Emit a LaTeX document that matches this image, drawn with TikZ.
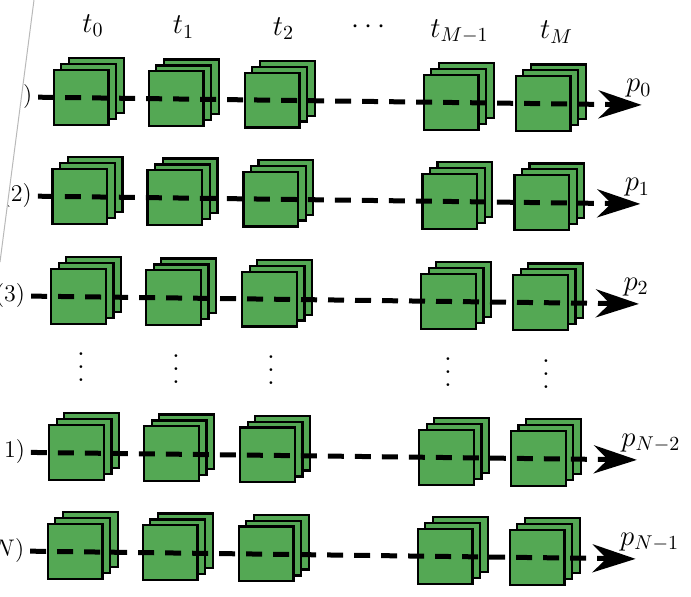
\documentclass[tikz,border=0pt]{standalone}
\usetikzlibrary{arrows.meta}
\definecolor{cardgreen}{RGB}{84,168,84}
\definecolor{edgegrey}{RGB}{185,185,185}
% three dots stacked with wider spacing than \vdots
\newcommand{\rowvdots}{\vbox{\baselineskip=6.5pt\lineskiplimit=0pt\hbox{.}\hbox{.}\hbox{.}}}
\tikzset{
  x=0.5pt, y=-0.5pt,
  card/.style={draw=black, fill=cardgreen, line width=1.1pt, minimum size=27.4pt, inner sep=0pt},
  flow/.style={line width=2.5pt, dash pattern=on 8pt off 5.5pt,
    -{Stealth[length=21.5pt,width=14pt,inset=7pt]}},
  lbl/.style={font=\Large, inner sep=0pt},
  rowlbl/.style={font=\large, inner sep=0pt, outer xsep=3pt, anchor=east},
  pagerule/.style={draw=edgegrey, line width=0.5pt},
}
\begin{document}
\begin{tikzpicture}
\useasboundingbox (0,0) rectangle (691,596);

\begin{scope}[rotate around={-0.76:(345,300)}]
  % stacks of three frames at every (row, time) position
  \foreach \r/\y in {0/101,1/200,2/300,3/456,4/555}{
    \foreach \c/\x in {0/50,1/145,2/241,3/420,4/512}{
      \foreach \k in {2,1,0}{
        \node[card] (s\r\c\k) at (\x+28.5+7.5*\k,\y-6*\k) {};
      }
    }
    \coordinate (tip\r) at (639,\y);
  }

  % time labels
  \node[lbl, anchor=base] (t0) at (89.5,36) {$t_0$};
  \node[lbl, anchor=base] (t1) at (180,36) {$t_1$};
  \node[lbl, anchor=base] (t2) at (280,36) {$t_2$};
  \node[lbl] (tdots) at (365,27) {$\cdots$};
  \node[lbl, anchor=base] (tm1) at (456,36) {$t_{M-1}$};
  \node[lbl, anchor=base] (tm) at (553,36) {$t_M$};

  % vertical ellipsis between the upper and lower rows
  \node[lbl] (d0) at (82,371) {\rowvdots};
  \node[lbl] (d1) at (177,371) {\rowvdots};
  \node[lbl] (d2) at (272,371) {\rowvdots};
  \node[lbl] (d3) at (449,371) {\rowvdots};
  \node[lbl] (d4) at (547,371) {\rowvdots};

  % path labels
  \foreach \r/\txt in {0/{p_0},1/{p_1},2/{p_2},3/{p_{N-2}},4/{p_{N-1}}}{
    \node[lbl, anchor=base west] (p\r) at ([shift={(-16,-13)}]tip\r) {$\txt$};
  }
\end{scope}

% row labels, cut off by the page edge on the left
\begin{scope}
  \clip (34,0) -- (691,0) -- (691,596) -- (0,596) -- (0,262) -- cycle;
  \begin{scope}[rotate around={-0.76:(345,300)}]
    \node[rowlbl] (l0) at (35.5,101) {$(1)$};
    \node[rowlbl] (l1) at (36.5,200) {$(2)$};
    \node[rowlbl] (l2) at (31,300) {$(3)$};
    \node[rowlbl] (l3) at (33,456) {$(N-1)$};
    \node[rowlbl] (l4) at (33.5,555) {$(N)$};
  \end{scope}
\end{scope}

% dashed paths through each row
\foreach \r in {0,...,4}{
  \draw[flow] (l\r) -- (tip\r);
}

% page edge
\draw[pagerule] (34,0) -- (0,262);
\end{tikzpicture}
\end{document}
